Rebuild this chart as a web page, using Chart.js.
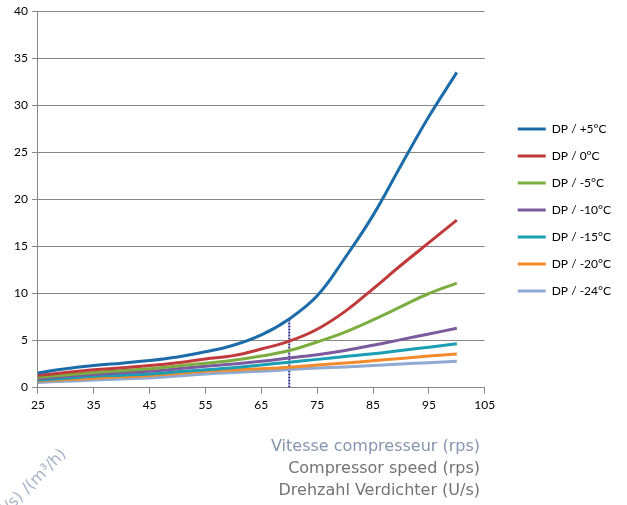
<!DOCTYPE html>
<html>
<head>
<meta charset="utf-8">
<script src="https://cdn.jsdelivr.net/npm/chart.js@4/dist/chart.umd.min.js"></script>
<style>
  html, body { margin: 0; padding: 0; background: #fff; }
  #wrap { width: 627px; height: 505px; }
</style>
</head>
<body>
<div id="wrap"><canvas id="grafico"></canvas></div>
<script>
const vitesses = [25, 30, 35, 40, 45, 50, 55, 60, 65, 70, 75, 80, 85, 90, 95, 100];

const dpPlus5   = [1.56, 2.0, 2.34, 2.6, 2.87, 3.25, 3.8, 4.5, 5.6, 7.3, 9.75, 13.8, 18.3, 23.6, 28.8, 33.5];
const dp0       = [1.3, 1.6, 1.9, 2.1, 2.34, 2.65, 3.05, 3.4, 4.1, 4.93, 6.2, 8.1, 10.5, 13.0, 15.4, 17.8];
const dpMoins5  = [1.1, 1.35, 1.6, 1.8, 2.0, 2.3, 2.6, 2.9, 3.35, 3.94, 4.85, 5.9, 7.2, 8.6, 10.0, 11.1];
const dpMoins10 = [0.95, 1.2, 1.4, 1.58, 1.74, 2.0, 2.27, 2.5, 2.8, 3.15, 3.5, 3.95, 4.5, 5.1, 5.7, 6.3];
const dpMoins15 = [0.8, 1.0, 1.2, 1.32, 1.45, 1.68, 1.9, 2.1, 2.4, 2.7, 3.0, 3.3, 3.6, 3.95, 4.3, 4.65];
const dpMoins20 = [0.7, 0.85, 1.0, 1.14, 1.28, 1.5, 1.74, 1.88, 2.0, 2.16, 2.4, 2.62, 2.85, 3.1, 3.35, 3.58];
const dpMoins24 = [0.55, 0.68, 0.8, 0.92, 1.03, 1.24, 1.45, 1.6, 1.75, 1.91, 2.07, 2.2, 2.35, 2.5, 2.65, 2.8];

const series = ['DP / +5°C', 'DP / 0°C', 'DP / -5°C', 'DP / -10°C', 'DP / -15°C', 'DP / -20°C', 'DP / -24°C'];
const couleurs = ['#1B6CA8', '#C0393B', '#7BAE3E', '#7B5B9E', '#1A9EB3', '#F38A2C', '#8EA9D2'];
const valeurs = [dpPlus5, dp0, dpMoins5, dpMoins10, dpMoins15, dpMoins20, dpMoins24];

// ligne de lecture à 70 rps
const repereX = [70, 70];
const repereY = [0, 7.3];

const yTicks = [0, 5, 10, 15, 20, 25, 30, 35, 40];
const xTicks = [25, 35, 45, 55, 65, 75, 85, 95, 105];

const titreX = ['Vitesse compresseur (rps)', 'Compressor speed (rps)', 'Drehzahl Verdichter (U/s)'];
const couleursTitreX = ['#8595AD', '#737373', '#737373'];
const titreY = '(l/s) /(m³/h)';

const datasets = series.map((nom, i) => ({
  label: nom,
  data: vitesses.map((v, j) => ({ x: v, y: valeurs[i][j] })),
  borderColor: couleurs[i],
  backgroundColor: couleurs[i],
  borderWidth: 3,
  pointRadius: 0,
  tension: 0.4,
  fill: false
}));

datasets.push({
  label: 'repere',
  data: repereX.map((v, j) => ({ x: v, y: repereY[j] })),
  borderColor: '#2B2F87',
  borderWidth: 2,
  borderDash: [2, 1],
  pointRadius: 0,
  fill: false
});

// Titres des axes
const titres = {
  id: 'titres',
  afterDraw(chart) {
    const ctx = chart.ctx;
    ctx.save();
    ctx.font = '16px "DejaVu Sans"';
    ctx.textAlign = 'right';
    ctx.textBaseline = 'middle';
    titreX.forEach((t, i) => {
      ctx.fillStyle = couleursTitreX[i];
      ctx.fillText(t, 480, 447 + i * 22);
    });
    ctx.translate(64, 452);
    ctx.rotate(-Math.PI / 4);
    ctx.fillStyle = '#A7B3C6';
    ctx.fillText(titreY, 0, 0);
    ctx.restore();
  }
};

// écart entre la zone du graphique et la légende
const ECART = 18;
const ecartLegende = {
  id: 'ecartLegende',
  beforeLayout(chart) {
    const leg = chart.legend;
    if (!leg || leg._ecart) return;
    leg._ecart = true;
    const fit = leg.fit.bind(leg);
    leg.fit = function () { fit(); this.width += ECART; };
    const draw = leg.draw.bind(leg);
    leg.draw = function (area) {
      chart.ctx.save();
      chart.ctx.translate(ECART, 0);
      draw(area);
      chart.ctx.restore();
    };
  }
};

new Chart(document.getElementById('grafico'), {
  type: 'line',
  data: { datasets },
  options: {
    responsive: true,
    maintainAspectRatio: false,
    animation: false,
    layout: { padding: { top: 4, left: 10, right: 6, bottom: 89 } },
    plugins: {
      legend: {
        position: 'right',
        labels: {
          usePointStyle: true,
          pointStyle: 'line',
          pointStyleWidth: 28,
          padding: 15,
          color: '#000',
          font: { family: 'Lato', size: 12 },
          filter: item => item.text !== 'repere'
        }
      },
      tooltip: { enabled: false }
    },
    scales: {
      x: {
        type: 'linear',
        min: 25,
        max: 105,
        afterBuildTicks: axis => { axis.ticks = xTicks.map(v => ({ value: v })); },
        ticks: { color: '#000', font: { family: 'Lato', size: 12 }, padding: 4 },
        grid: { drawOnChartArea: false, color: '#868686', tickLength: 6 },
        border: { color: '#868686' }
      },
      y: {
        min: 0,
        max: 40,
        afterBuildTicks: axis => { axis.ticks = yTicks.map(v => ({ value: v })); },
        ticks: { color: '#000', font: { family: 'Lato', size: 12 }, padding: 4 },
        grid: { color: '#868686', tickLength: 6 },
        border: { color: '#868686' }
      }
    }
  },
  plugins: [titres, ecartLegende]
});
</script>
</body>
</html>
